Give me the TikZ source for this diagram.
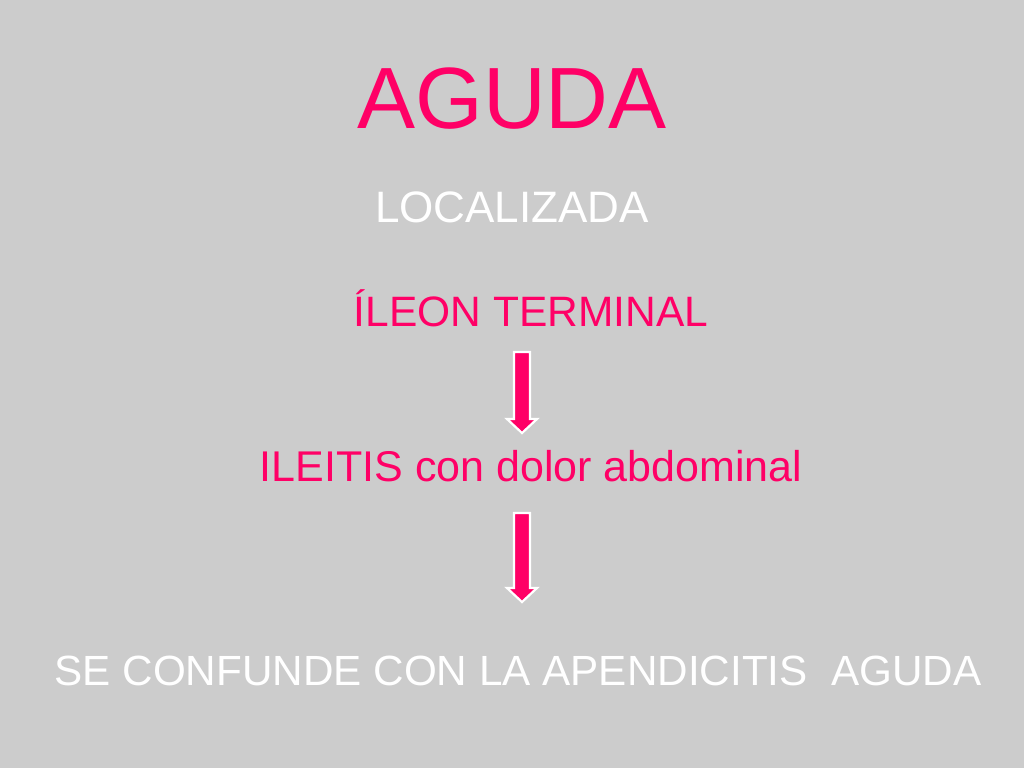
\documentclass[tikz,border=0pt]{standalone}
\usepackage{fontspec}
\setmainfont{Liberation Sans}
\definecolor{bg}{HTML}{CCCCCC}
\definecolor{hot}{HTML}{FF0066}
\tikzset{
  txt/.style={inner sep=0pt, anchor=base},
  blockarrow/.style={fill=hot, draw=white, line width=2.2pt, line join=miter}
}
\newcommand{\downarrowblock}[3]{% x, top, tip
  \path[blockarrow] (#1-8,#2) -- (#1+8,#2) -- (#1+8,#3-14) -- (#1+15,#3-14) -- (#1,#3) -- (#1-15,#3-14) -- (#1-8,#3-14) -- cycle;
}
\begin{document}
\begin{tikzpicture}[x=1pt,y=-1pt]
\fill[bg] (0,0) rectangle (1024,768);
\useasboundingbox (0,0) rectangle (1024,768);
\node[txt, text=hot, font=\fontsize{87}{100}\selectfont] (title) at (512,128) {AGUDA};
\node[txt, text=white, font=\fontsize{44}{52}\selectfont] (loc) at (512,222) {LOCALIZADA};
\node[txt, text=hot, font=\fontsize{42.5}{50}\selectfont] (ileon) at (531,326) {ÍLEON TERMINAL};
\node[txt, text=hot, font=\fontsize{43}{50}\selectfont] (ileitis) at (531,481) {ILEITIS con dolor abdominal};
\node[txt, text=white, font=\fontsize{44}{52}\selectfont] (conf) at (518,685) {\resizebox{927pt}{!}{SE CONFUNDE CON LA APENDICITIS\ \ AGUDA}};
\downarrowblock{522}{352}{433}
\downarrowblock{522}{513}{602}
\end{tikzpicture}
\end{document}
